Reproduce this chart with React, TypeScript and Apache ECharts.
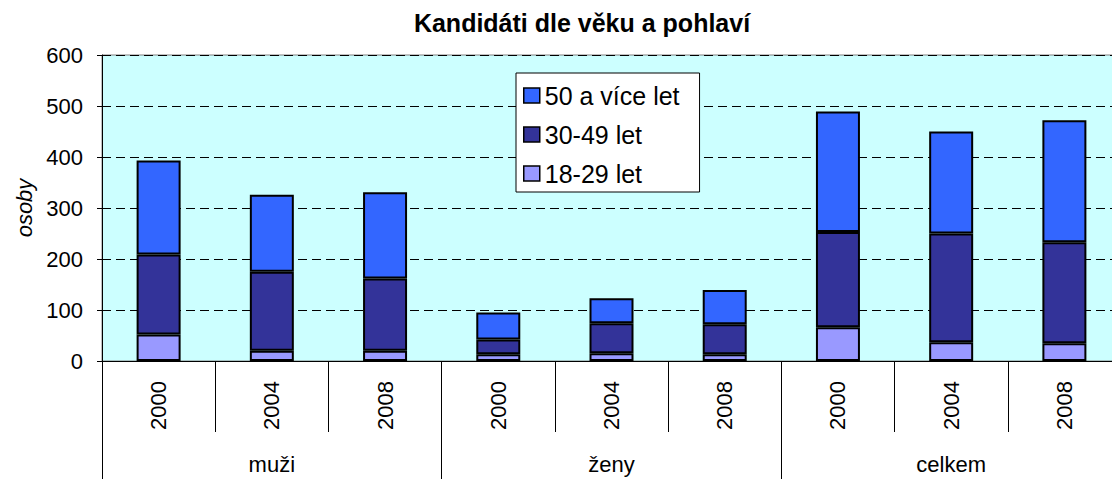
import React, { useEffect, useRef } from "react";
import * as echarts from "echarts";

const years = ["2000", "2004", "2008"];
const groups = ["muži", "ženy", "celkem"];
const seriesNames = ["18-29 let", "30-49 let", "50 a více let"];
const age18to29 = [52, 20, 20, 13, 15, 13, 66, 37, 35];
const age30to49 = [157, 155, 142, 29, 59, 59, 187, 213, 198];
const age50plus = [184, 151, 169, 53, 49, 67, 236, 200, 239];
const yTicks = { min: 0, max: 600, interval: 100 };

const colors = ["#9999FF", "#333399", "#3366FF"];
const FONT = "'Liberation Sans', Arial, sans-serif";

export default function App() {
  const ref = useRef<HTMLDivElement>(null);
  useEffect(() => {
    if (!ref.current) return;
    document.documentElement.style.overflow = "hidden";
    document.body.style.overflow = "hidden";
    const chart = echarts.init(ref.current, undefined, { renderer: "svg" });
    const categories: string[] = [];
    groups.forEach((g) => years.forEach((y) => categories.push(g + "|" + y)));
    const values = [age18to29, age30to49, age50plus];
    chart.setOption({
      animation: false,
      textStyle: { fontFamily: FONT, color: "#000" },
      title: {
        text: "Kandidáti dle věku a pohlaví",
        left: 582,
        textAlign: "center",
        top: 10,
        padding: 0,
        textStyle: { fontFamily: FONT, fontSize: 25, fontWeight: "bold", color: "#000" },
      },
      legend: {
        orient: "vertical",
        left: 516,
        top: 73,
        data: ["50 a více let", "30-49 let", "18-29 let"],
        backgroundColor: "#FFFFFF",
        borderColor: "#000",
        borderWidth: 1,
        padding: [10, 20, 6, 7],
        itemGap: 14,
        itemWidth: 16,
        itemHeight: 15,
        icon: "rect",
        itemStyle: { borderColor: "#000", borderWidth: 1.5 },
        textStyle: { fontFamily: FONT, fontSize: 25, color: "#000", lineHeight: 25 },
      },
      grid: {
        left: 102,
        top: 55,
        width: 1019,
        height: 306,
        show: true,
        backgroundColor: "#CCFFFF",
        borderColor: "#808080",
        borderWidth: 1,
      },
      xAxis: [
        {
          type: "category",
          data: categories,
          position: "bottom",
          axisLine: { show: true, lineStyle: { color: "#000", width: 1 } },
          axisTick: { show: true, interval: 0, length: 71, lineStyle: { color: "#000", width: 1 } },
          axisLabel: {
            interval: 0,
            rotate: 90,
            margin: 20,
            fontSize: 22,
            fontFamily: FONT,
            color: "#000",
            formatter: (v: string) => v.split("|")[1],
          },
          splitLine: { show: false },
        },
        {
          type: "category",
          data: groups,
          position: "bottom",
          axisLine: { show: false },
          axisTick: { show: true, interval: 0, length: 120, lineStyle: { color: "#000", width: 1 } },
          axisLabel: { interval: 0, margin: 92, fontSize: 22, fontFamily: FONT, color: "#000" },
          splitLine: { show: false },
        },
      ],
      yAxis: {
        type: "value",
        min: yTicks.min,
        max: yTicks.max,
        interval: yTicks.interval,
        name: "osoby",
        nameLocation: "middle",
        nameRotate: 90,
        nameGap: 66,
        nameTextStyle: { fontFamily: FONT, fontSize: 22, fontStyle: "italic", color: "#000" },
        axisLine: { show: true, lineStyle: { color: "#000", width: 1 } },
        axisTick: { show: true, length: 5, lineStyle: { color: "#000" } },
        axisLabel: { fontSize: 22, fontFamily: FONT, color: "#000", margin: 19 },
        splitLine: { show: true, lineStyle: { color: "#000", type: [9, 5], width: 1 } },
      },
      series: seriesNames.map((name, i) => ({
        name,
        type: "bar",
        stack: "total",
        xAxisIndex: 0,
        barWidth: 44,
        data: values[i],
        itemStyle: { color: colors[i], borderColor: "#000", borderWidth: 2 },
      })),
    });
    return () => chart.dispose();
  }, []);
  return (
    <div
      ref={ref}
      style={{ position: "fixed", left: 0, top: 0, width: 1130, height: 479, background: "#fff" }}
    />
  );
}
